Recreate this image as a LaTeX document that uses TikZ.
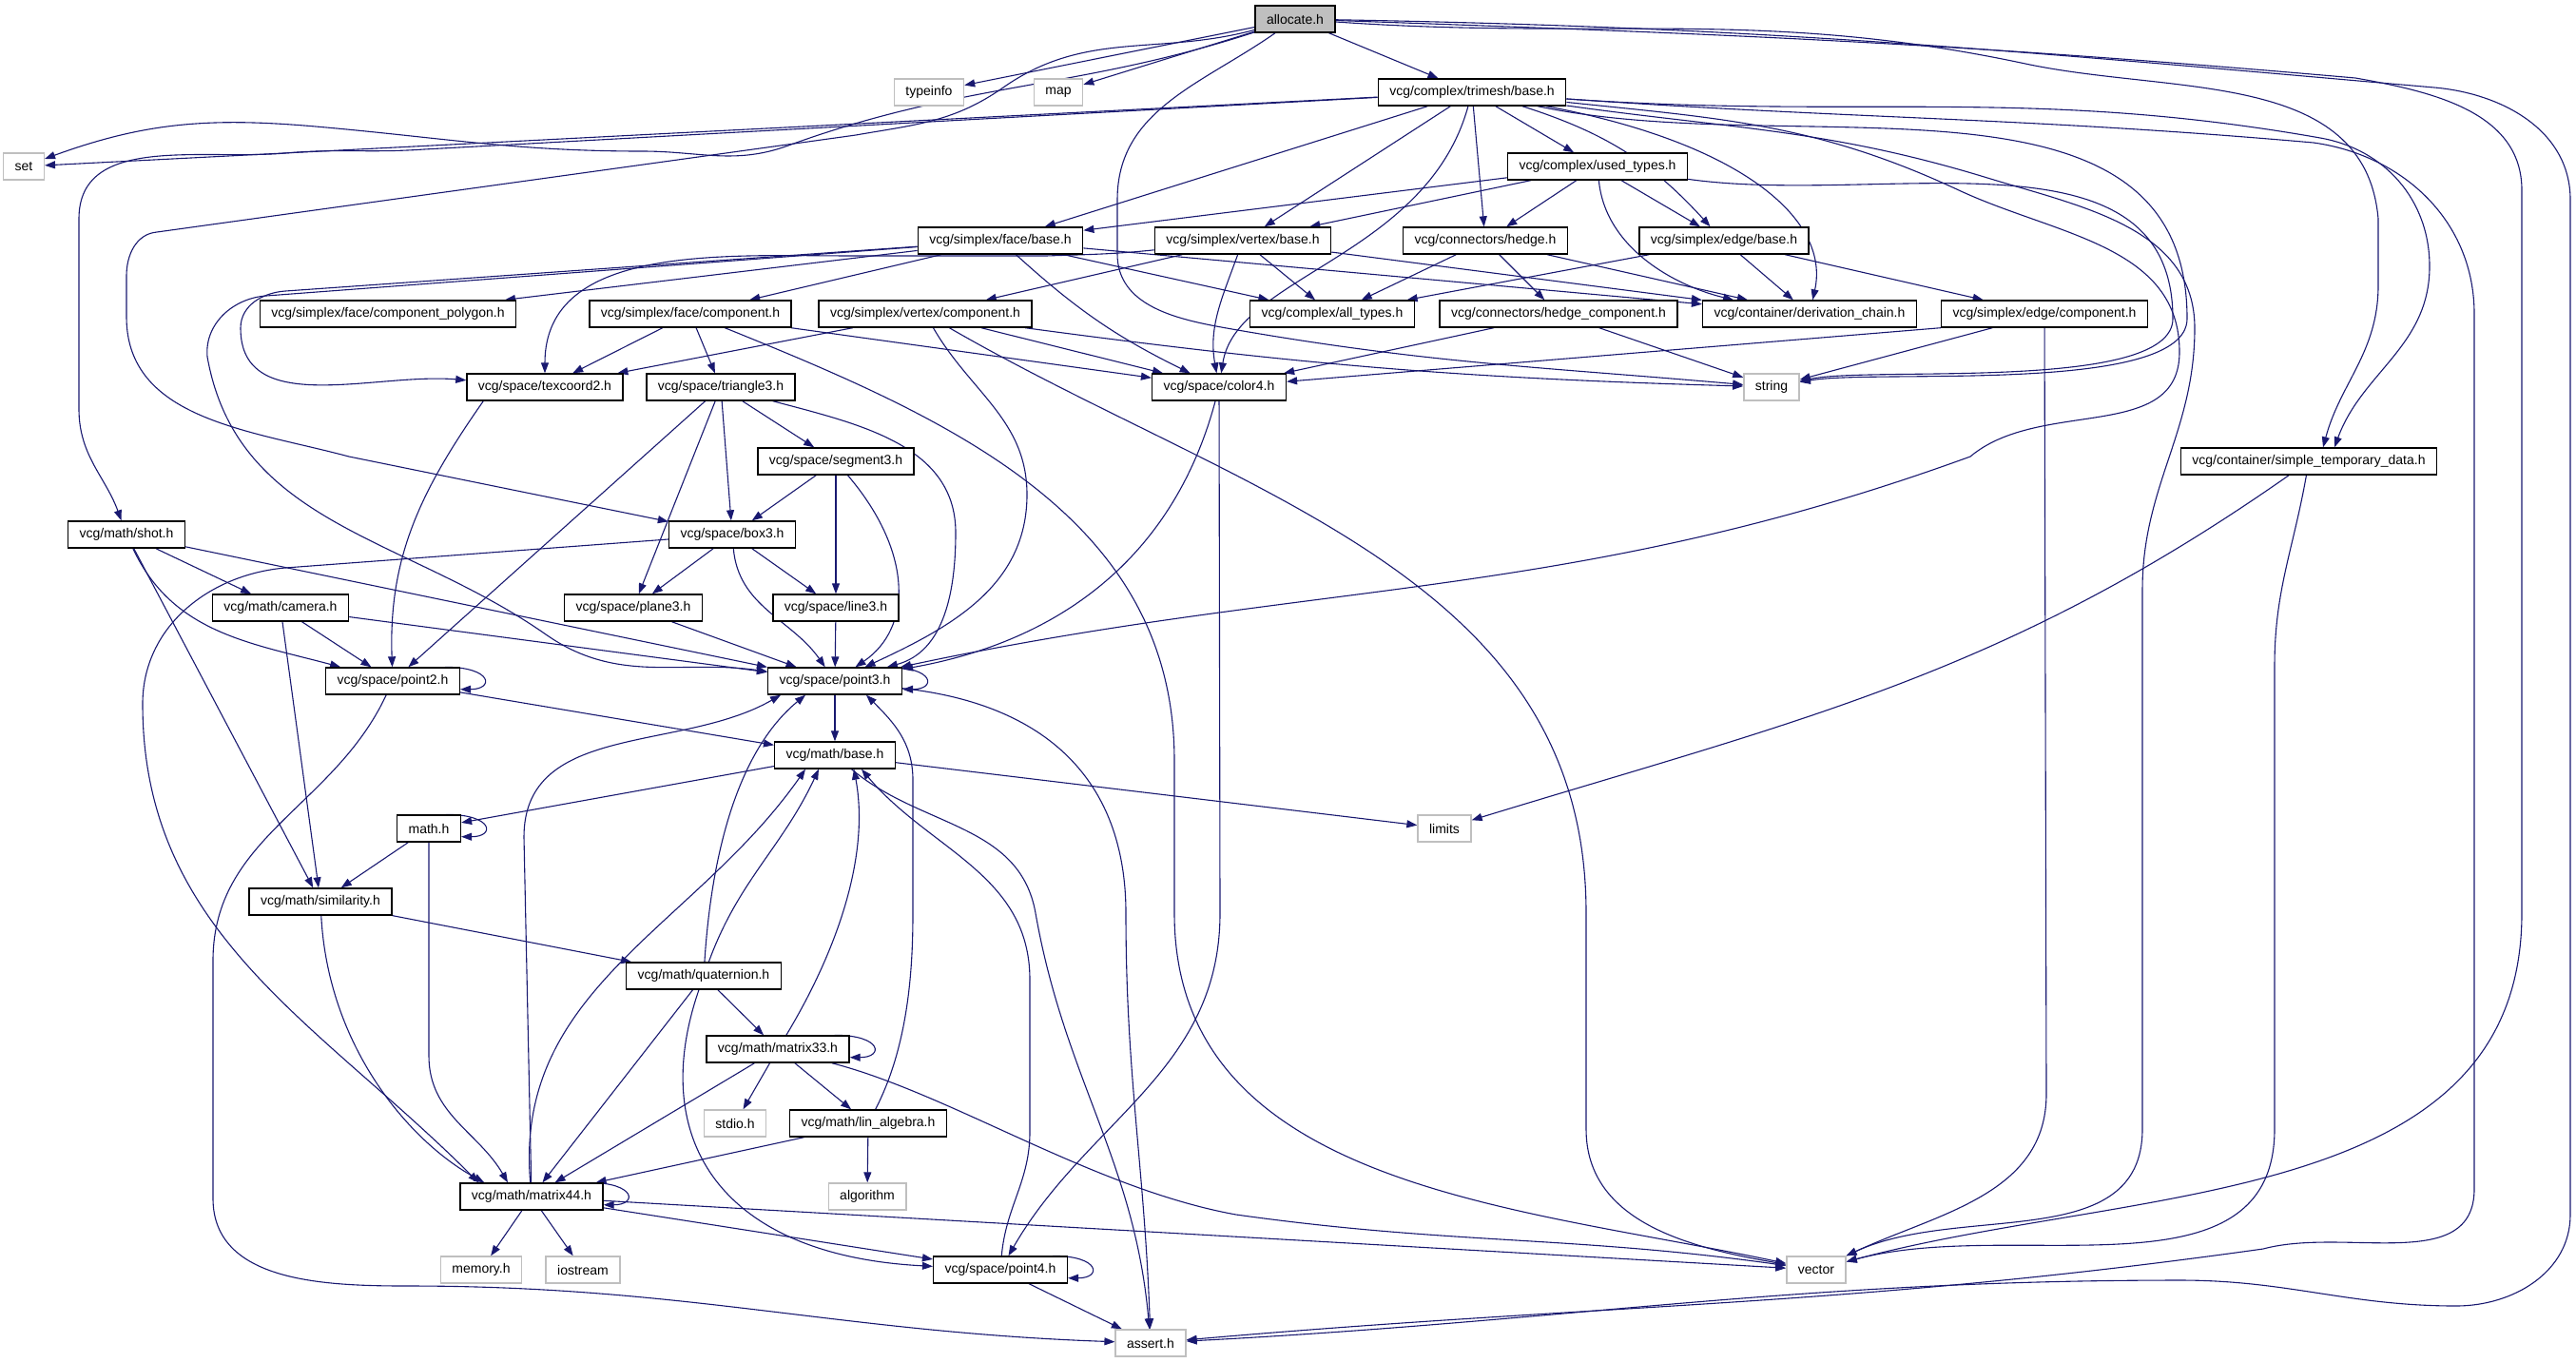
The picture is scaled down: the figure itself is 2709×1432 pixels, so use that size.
\documentclass[tikz,border=0pt]{standalone}
\usepackage{fontspec}
\setmainfont{Liberation Sans}
\usetikzlibrary{arrows.meta,backgrounds}
\definecolor{dox}{HTML}{191970}
\definecolor{sysgray}{HTML}{BFBFBF}
\definecolor{topgray}{HTML}{BFBFBF}
\tikzset{
  file/.style={draw=black, line width=.7pt},
  sys/.style={draw=sysgray, line width=.7pt},
  dep/.style={draw=dox, line width=.55pt, -{Triangle[length=5.5pt,width=4pt]}},
}

\begin{document}
\begin{tikzpicture}[x=.5pt,y=.5pt]
\useasboundingbox (0,0) rectangle (2709,-1432);

\begin{scope}[every node/.style={file, fill=white, minimum height=14pt,
    inner xsep=6pt, inner ysep=0pt, font=\fontsize{7}{8}\selectfont}]
  \node[fill=topgray] (alloc) at (1362,-20) {allocate.h};
  \node[sys] (typeinfo) at (977,-97) {typeinfo};
  \node[sys] (map) at (1113,-97) {map};
  \node (tmbase) at (1548,-97) {vcg/complex/trimesh/base.h};
  \node[sys] (set) at (25,-175) {set};
  \node (usedtypes) at (1680,-175) {vcg/complex/used\_types.h};
  \node (fbase) at (1052,-253) {vcg/simplex/face/base.h};
  \node (vbase) at (1307,-253) {vcg/simplex/vertex/base.h};
  \node (hedge) at (1562,-253) {vcg/connectors/hedge.h};
  \node (ebase) at (1813,-253) {vcg/simplex/edge/base.h};
  \node (fpoly) at (408,-330) {vcg/simplex/face/component\_polygon.h};
  \node (fcomp) at (726,-330) {vcg/simplex/face/component.h};
  \node (vcomp) at (973,-330) {vcg/simplex/vertex/component.h};
  \node (alltypes) at (1401,-330) {vcg/complex/all\_types.h};
  \node (hedgecomp) at (1639,-330) {vcg/connectors/hedge\_component.h};
  \node (derivchain) at (1903,-330) {vcg/container/derivation\_chain.h};
  \node (ecomp) at (2150,-330) {vcg/simplex/edge/component.h};
  \node (texcoord2) at (573,-407) {vcg/space/texcoord2.h};
  \node (triangle3) at (758,-407) {vcg/space/triangle3.h};
  \node (color4) at (1282,-407) {vcg/space/color4.h};
  \node[sys] (string) at (1863,-407) {string};
  \node (segment3) at (879,-485) {vcg/space/segment3.h};
  \node (simpletemp) at (2428,-485) {vcg/container/simple\_temporary\_data.h};
  \node (shot) at (133,-562) {vcg/math/shot.h};
  \node (box3) at (770,-562) {vcg/space/box3.h};
  \node (camera) at (295,-639) {vcg/math/camera.h};
  \node (plane3) at (666,-639) {vcg/space/plane3.h};
  \node (line3) at (879,-639) {vcg/space/line3.h};
  \node (point2) at (413,-716) {vcg/space/point2.h};
  \node (point3) at (878,-716) {vcg/space/point3.h};
  \node (mbase) at (878,-794) {vcg/math/base.h};
  \node (mathh) at (451,-871) {math.h};
  \node[sys] (limits) at (1519,-871) {limits};
  \node (similarity) at (337,-948) {vcg/math/similarity.h};
  \node (quaternion) at (740,-1026) {vcg/math/quaternion.h};
  \node (matrix33) at (818,-1103) {vcg/math/matrix33.h};
  \node[sys] (stdio) at (773,-1181) {stdio.h};
  \node (linalg) at (913,-1181) {vcg/math/lin\_algebra.h};
  \node[sys] (algorithm) at (912,-1258) {algorithm};
  \node (matrix44) at (559,-1258) {vcg/math/matrix44.h};
  \node[sys] (memory) at (506,-1335) {memory.h};
  \node[sys] (iostream) at (613,-1335) {iostream};
  \node (point4) at (1052,-1335) {vcg/space/point4.h};
  \node[sys] (vector) at (1910,-1335) {vector};
  \node[sys] (assert) at (1210,-1412) {assert.h};
\end{scope}

\begin{scope}[on background layer, every edge/.style={dep}]
  % allocate.h
  \path (alloc) edge (typeinfo);
  \path (alloc) edge (map);
  \path (alloc) edge (tmbase);
  \draw[dep] (alloc) to[out=198,in=20] (829,-153) to[out=200,in=0] (676,-159)
    to[out=180,in=-5] (332,-133) to[out=175,in=20] (set);
  \draw[dep] (alloc) to[out=195,in=35] (1055,-92) to[out=215,in=10] (900,-142)
    -- (165,-244) to[out=185,in=90] (133,-290) -- (133,-333)
    to[out=-90,in=165] (367,-480) -- (box3);
  \draw[dep] (alloc) to[out=215,in=90] (1175,-210) -- (1175,-267)
    to[out=-90,in=170] (1290,-345) to[out=-10,in=175] (string);
  \draw[dep] (alloc) to[out=-4,in=168] (2130,-67) to[out=-12,in=95] (2501,-230)
    -- (2501,-300) to[out=-90,in=75] ([xshift=7.5pt]simpletemp.north);
  \draw[dep] (alloc) to[out=-2,in=175] (2477,-82) to[out=-10,in=90] (2652,-200)
    -- (2652,-960) to[out=-90,in=15] (vector);
  \draw[dep] (alloc) to[out=-1,in=175] (2560,-92) to[out=-5,in=90] (2703,-210)
    -- (2703,-1277) to[out=-90,in=0] (2583,-1373) to[out=180,in=0] (2293,-1346)
    to[out=180,in=3] (assert);

  % trimesh/base.h
  \path (tmbase) edge (set);
  \draw[dep] (tmbase) -- (446,-157) to[out=184,in=5] (300,-161)
    to[out=185,in=90] (83,-230) -- (83,-430) to[out=-90,in=110] (shot);
  \path (tmbase) edge (usedtypes);
  \path (tmbase) edge (fbase);
  \path (tmbase) edge (vbase);
  \path (tmbase) edge (hedge);
  \path (tmbase) edge[bend left=15] (ebase);
  \draw[dep] (tmbase) .. controls (1500,-270) and (1300,-290) .. (color4);
  \draw[dep] (tmbase) .. controls (1830,-150) and (1925,-230) .. (derivchain);
  \draw[dep] (tmbase) to[out=-12,in=90] (2300,-335)
    to[out=-90,in=10,looseness=.5] (string);
  \draw[dep] (tmbase) to[out=-8,in=163] (2090,-187) to[out=-17,in=90] (2308,-345)
    to[out=-90,in=90] (2253,-620) -- (2253,-1187) to[out=-90,in=25] (vector);
  \draw[dep] (tmbase) to[out=-6,in=155] (2060,-200) to[out=-25,in=90] (2292,-370)
    to[out=-90,in=40] (2072,-480) to[out=200,in=12] (point3);
  \draw[dep] (tmbase) to[out=-4,in=170] (2440,-145) to[out=-10,in=90] (2555,-280)
    to[out=-90,in=70] ([xshift=13.5pt]simpletemp.north);
  \draw[dep] (tmbase) to[out=-4,in=175] (2433,-150) to[out=-8,in=90] (2602,-330)
    -- (2602,-1250) to[out=-90,in=15] (2380,-1313) to[out=188,in=5] (assert);

  % used_types.h
  \path (usedtypes) edge (fbase);
  \path (usedtypes) edge (vbase);
  \path (usedtypes) edge (hedge);
  \path (usedtypes) edge (ebase);
  \draw[dep] (usedtypes) .. controls (1688,-260) and (1760,-300) .. ([xshift=-40pt]derivchain.north);
  \draw[dep] (usedtypes) to[out=-8,in=90] (2285,-335)
    to[out=-90,in=12,looseness=.5] (string);

  % face/base.h
  \path (fbase) edge (fpoly);
  \path (fbase) edge (fcomp);
  \path (fbase) edge[bend right=8] (color4);
  \path (fbase) edge (alltypes);
  \path (fbase) edge (derivchain);
  \draw[dep] (fbase) -- (300,-306) to[out=184,in=90] (253,-345)
    to[out=-90,in=175] (texcoord2);
  \draw[dep] (fbase) -- (280,-311) to[out=184,in=95] (218,-375)
    to[out=-80,in=145] (574,-667) to[out=-35,in=172] (point3);

  % vertex/base.h
  \path (vbase) edge (vcomp);
  \path (vbase) edge (alltypes);
  \path (vbase) edge[out=-110,in=100] (color4);
  \path (vbase) edge (derivchain);
  \draw[dep] (vbase) to[out=186,in=2] (1100,-269) -- (900,-269)
    to[out=180,in=90] (texcoord2);

  % connectors/hedge.h, edge/base.h
  \path (hedge) edge (alltypes);
  \path (hedge) edge (hedgecomp);
  \path (hedge) edge (derivchain);
  \path (ebase) edge (alltypes);
  \path (ebase) edge (derivchain);
  \path (ebase) edge (ecomp);

  % vertex/component.h
  \path (vcomp) edge (texcoord2);
  \path (vcomp) edge (color4);
  \path (vcomp) edge[bend right=3] (string);
  \draw[dep] (vcomp) to[out=-60,in=90] (1080,-520) to[out=-90,in=25] (point3);
  \draw[dep] (vcomp) to[out=-30,in=90] (1668,-960) -- (1668,-1187)
    to[out=-90,in=170] (vector);

  % face/component.h
  \path (fcomp) edge (texcoord2);
  \path (fcomp) edge (triangle3);
  \path (fcomp) edge (color4);
  \draw[dep] (fcomp) to[out=-22,in=90] (1235,-800) -- (1235,-960)
    to[out=-90,in=168] (vector);

  % texcoord2.h, triangle3.h, segment3.h
  \draw[dep] ([xshift=9pt]texcoord2.south west) to[out=-125,in=92] (point2);
  \path (triangle3) edge (segment3);
  \path (triangle3) edge (box3);
  \path (triangle3) edge (plane3);
  \path (triangle3) edge (point2);
  \draw[dep] (triangle3) to[out=-15,in=90] (1005,-560) to[out=-90,in=15] (point3);
  \path (segment3) edge (box3);
  \path (segment3) edge (line3);
  \draw[dep] (segment3) .. controls (960,-580) and (960,-660) .. (point3);

  % box3.h, plane3.h, line3.h
  \path (box3) edge (plane3);
  \path (box3) edge (line3);
  \path (box3) edge[out=-85,in=125] (point3);
  \draw[dep] (box3) -- (300,-597) to[out=185,in=90] (150,-740)
    to[out=-90,in=135] ([xshift=10pt]matrix44.north west);
  \path (plane3) edge (point3);
  \path (line3) edge (point3);

  % shot.h, camera.h
  \path (shot) edge (camera);
  \path (shot) edge[out=-65,in=165] (point2);
  \path (shot) edge (point3);
  \path (shot) edge (similarity);
  \path (camera) edge (point2);
  \path (camera) edge (point3);
  \path (camera) edge (similarity);

  % point2.h
  \draw[dep] ([xshift=-8pt]point2.north east) .. controls +(50,0) and +(36,0) .. ([yshift=3pt]point2.south east);
  \path (point2) edge (mbase);
  \draw[dep] (point2) to[out=-115,in=90] (224,-1010) -- (224,-1260)
    to[out=-90,in=180] (430,-1352) to[out=0,in=178] (assert);

  % point3.h
  \draw[dep] ([xshift=-8pt]point3.north east) .. controls +(50,0) and +(36,0) .. ([yshift=3pt]point3.south east);
  \path (point3) edge (mbase);
  \draw[dep] (point3) .. controls (1100,-740) and (1184,-820) .. (1184,-960)
    to[out=-90,in=92] (assert);

  % math/base.h, math.h, similarity.h
  \path (mbase) edge (mathh);
  \path (mbase) edge (limits);
  \draw[dep] (mbase) to[out=-40,in=100] (1089,-960) to[out=-80,in=95] (assert);
  \draw[dep] ([xshift=-8pt]mathh.north east) .. controls +(50,0) and +(36,0) .. ([yshift=3pt]mathh.south east);
  \path (mathh) edge (similarity);
  \draw[dep] (mathh) -- (451,-1110) to[out=-90,in=120] ([xshift=-12.5pt]matrix44.north);
  \path (similarity) edge (quaternion);
  \draw[dep] (similarity) .. controls (345,-1100) and (430,-1200) .. ([xshift=13pt]matrix44.north west);

  % quaternion.h
  \path (quaternion) edge (matrix33);
  \path (quaternion) edge (matrix44);
  \draw[dep] (quaternion) .. controls (680,-1200) and (760,-1320) .. (point4);
  \draw[dep] (quaternion) .. controls (748,-900) and (775,-790) .. ([xshift=-15.5pt]point3.south);
  \draw[dep] (quaternion) to[out=70,in=-115] ([xshift=-8.5pt]mbase.south);

  % matrix33.h
  \draw[dep] ([xshift=-8pt]matrix33.north east) .. controls +(50,0) and +(36,0) .. ([yshift=3pt]matrix33.south east);
  \path (matrix33) edge (stdio);
  \path (matrix33) edge (linalg);
  \path (matrix33) edge (matrix44);
  \draw[dep] (matrix33) .. controls (880,-1000) and (915,-900) .. ([xshift=10pt]mbase.south);
  \draw[dep] (matrix33) .. controls (1000,-1150) and (1150,-1250) .. (1300,-1277)
    to[out=-8,in=172] (vector);

  % lin_algebra.h
  \path (linalg) edge (algorithm);
  \path (linalg) edge (matrix44);
  \draw[dep] (linalg) .. controls (955,-1100) and (960,-1020) .. (960,-960) -- (960,-820)
    to[out=90,in=-45] ([xshift=16.5pt]point3.south);

  % matrix44.h
  \draw[dep] ([xshift=-8pt]matrix44.north east) .. controls +(50,0) and +(36,0) .. ([yshift=3pt]matrix44.south east);
  \path (matrix44) edge (memory);
  \path (matrix44) edge (iostream);
  \path (matrix44) edge (point4);
  \path (matrix44) edge (vector);
  \draw[dep] (matrix44) to[out=95,in=-125] ([xshift=-15.5pt]mbase.south);
  \draw[dep] (matrix44) -- (551,-880) to[out=90,in=-150] ([xshift=-28.5pt]point3.south);

  % point4.h
  \draw[dep] ([xshift=-8pt]point4.north east) .. controls +(50,0) and +(36,0) .. ([yshift=3pt]point4.south east);
  \path (point4) edge (assert);
  \draw[dep] (point4) to[out=85,in=-90] (1083,-1190) -- (1083,-1030)
    to[out=90,in=-50] ([xshift=14pt]mbase.south);

  % color4.h
  \path (color4) edge[out=-105,in=10] (point3);
  \draw[dep] (color4) -- (1283,-960) to[out=-90,in=60] (point4);

  % hedge_component.h, edge/component.h
  \path (hedgecomp) edge (color4);
  \path (hedgecomp) edge (string);
  \path (ecomp.south west) edge (color4);
  \path (ecomp) edge (string);
  \draw[dep] (ecomp) -- (2152,-1150) to[out=-90,in=25] (vector);

  % simple_temporary_data.h
  \path (simpletemp) edge[out=-145,in=17] (limits);
  \draw[dep] (simpletemp) to[out=-100,in=90] (2392,-700) -- (2392,-1187)
    to[out=-90,in=15] (vector);
\end{scope}
\end{tikzpicture}
\end{document}
